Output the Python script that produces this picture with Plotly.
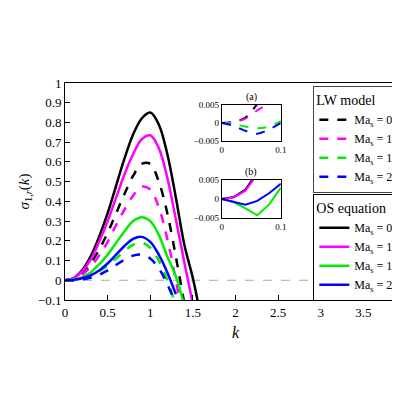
import plotly.graph_objects as go

k = [0, 0.1, 0.2, 0.3, 0.4, 0.5, 0.6, 0.7, 0.8, 0.9, 1.0, 1.1, 1.2, 1.3, 1.4, 1.5, 1.6]

os_ma0 = [0, .01, .05, .12, .22, .34, .48, .62, .74, .82, .85, .79, .64, .42, .18, .01, -.2]
os_ma1 = [0, .01, .045, .105, .195, .30, .42, .54, .64, .715, .735, .67, .52, .31, .09, -.12]
os_ma10 = [0, .003, .015, .04, .08, .13, .19, .25, .30, .32, .30, .23, .12, .02, -.13]
os_ma20 = [0, .002, .01, .025, .05, .085, .13, .175, .21, .22, .195, .13, .04, -.07]
lw_ma0 = [0, .008, .035, .085, .155, .24, .34, .44, .53, .59, .59, .50, .34, .12, -.12]
lw_ma1 = [0, .006, .028, .068, .125, .195, .28, .36, .43, .475, .46, .37, .21, .0, -.23]
lw_ma10 = [0, .0, .008, .022, .045, .075, .11, .15, .18, .19, .165, .10, .0, -.13]
lw_ma20 = [0, -.001, .004, .013, .028, .05, .078, .105, .125, .13, .11, .06, -.02, -.12]

# small-k insets
ks = [0, 0.02, 0.04, 0.06, 0.08, 0.1]
a_ma0 = [0, .0003, .0015, .0052, .009, .014]
a_ma1 = [0, .0002, .0012, .0035, .0055, .009]
a_ma10 = [0, -.0003, -.0010, -.0015, -.0010, .0005]
a_ma20 = [0, -.0008, -.0022, -.0030, -.0018, 0]
b_ma0 = [0, .0005, .0025, .0062, .011, .016]
b_ma1 = [0, .0004, .0022, .0055, .010, .015]
b_ma10 = [0, -.0008, -.0025, -.0043, -.0015, .003]
b_ma20 = [0, -.0008, -.0015, -.0005, .0015, .004]

labels = ['0', '1', '10', '20']
colors = ['black', '#ff00ff', '#00ee00', '#0000ff']
font = 'Liberation Serif'

fig = go.Figure()
for ys, c, lab in zip([lw_ma0, lw_ma1, lw_ma10, lw_ma20], colors, labels):
    fig.add_trace(go.Scatter(x=k[:len(ys)], y=ys, mode='lines', line=dict(color=c, width=2.5, dash='dash', shape='spline'),
                             name=f'Ma<sub>s</sub> = {lab}', legend='legend'))
for ys, c, lab in zip([os_ma0, os_ma1, os_ma10, os_ma20], colors, labels):
    fig.add_trace(go.Scatter(x=k[:len(ys)], y=ys, mode='lines', line=dict(color=c, width=2.5, shape='spline'),
                             name=f'Ma<sub>s</sub> = {lab}', legend='legend2'))
for ys, c in zip([a_ma0, a_ma1, a_ma10, a_ma20], colors):
    fig.add_trace(go.Scatter(x=ks, y=ys, mode='lines', line=dict(color=c, width=2, dash='dash', shape='spline'),
                             showlegend=False, xaxis='x2', yaxis='y2'))
for ys, c in zip([b_ma0, b_ma1, b_ma10, b_ma20], colors):
    fig.add_trace(go.Scatter(x=ks, y=ys, mode='lines', line=dict(color=c, width=2),
                             showlegend=False, xaxis='x3', yaxis='y3'))

for ya, xa in [('y', 'x'), ('y2', 'x2'), ('y3', 'x3')]:
    fig.add_shape(type='line', xref=f'{xa} domain', yref=ya, x0=0, x1=1, y0=0, y1=0,
                  line=dict(color='#e08080' if xa != 'x' else '#aaaaaa', width=1, dash='dash'), layer='below')

ax = dict(showgrid=False, zeroline=False, showline=True, linecolor='black', mirror=True,
          ticks='inside', tickcolor='black', tickfont=dict(size=13, family=font), automargin=False)
inset = dict(ax, tickfont=dict(size=9, family=font), ticklen=3)

fig.update_layout(
    width=400, height=400, plot_bgcolor='white', paper_bgcolor='white',
    margin=dict(l=57, r=2, t=75, b=108),
    font=dict(family=font, color='black'),
    xaxis=dict(ax, range=[0, 4], dtick=0.5, title=dict(text='<i>k</i>', font=dict(size=16), standoff=8)),
    yaxis=dict(ax, range=[-0.1, 1], dtick=0.1, tickformat='.1~f',
               title=dict(text='<i>σ</i><sub>1,<i>r</i></sub>(<i>k</i>)', font=dict(size=15), standoff=4)),
    xaxis2=dict(inset, domain=[0.46, 0.633], range=[0, 0.1], tickvals=[0, 0.1], anchor='y2'),
    yaxis2=dict(inset, domain=[0.733, 0.899], range=[-0.005, 0.005], tickvals=[-0.005, 0, 0.005], anchor='x2'),
    xaxis3=dict(inset, domain=[0.46, 0.633], range=[0, 0.1], tickvals=[0, 0.1], anchor='y3'),
    yaxis3=dict(inset, domain=[0.378, 0.553], range=[-0.005, 0.005], tickvals=[-0.005, 0, 0.005], anchor='x3'),
    legend=dict(title=dict(text='LW model', font=dict(size=14)), x=0.998, xanchor='right', y=0.986, yanchor='top',
                bgcolor='white', bordercolor='#444', borderwidth=1, font=dict(size=12), tracegroupgap=0,
                itemwidth=30),
    legend2=dict(title=dict(text='OS equation', font=dict(size=14)), x=0.998, xanchor='right', y=0.488, yanchor='top',
                 bgcolor='white', bordercolor='black', borderwidth=1, font=dict(size=12), itemwidth=30),
    annotations=[
        dict(text='(a)', x=0.546, y=0.9, xref='paper', yref='paper', showarrow=False, yanchor='bottom',
             font=dict(size=10)),
        dict(text='(b)', x=0.546, y=0.554, xref='paper', yref='paper', showarrow=False, yanchor='bottom',
             font=dict(size=10)),
    ],
)

fig.write_html('out.html')
